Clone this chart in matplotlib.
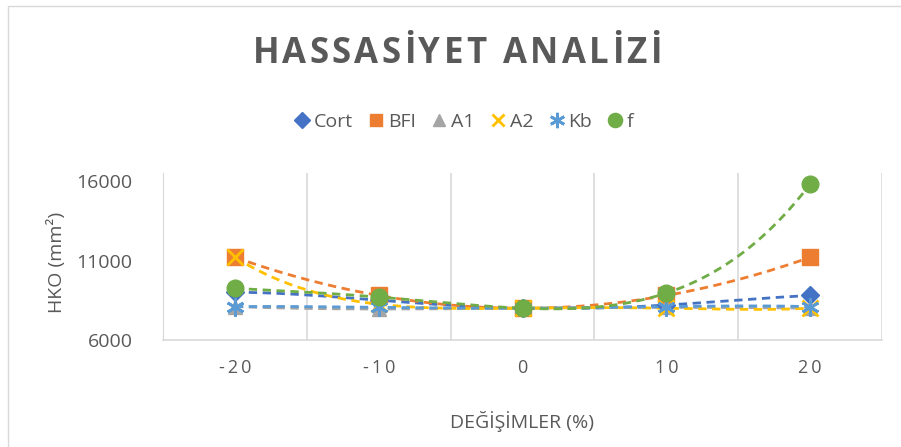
import numpy as np
import matplotlib
matplotlib.use('Agg')
import matplotlib.pyplot as plt
from matplotlib.patches import Rectangle

plt.rcParams['font.family'] = ['Open Sans', 'DejaVu Sans']

# data
degisim = [-20, -10, 0, 10, 20]
cort = [9000, 8500, 8000, 8200, 8800]
bfi = [11200, 8800, 8000, 8800, 11200]
a1 = [8100, 7950, 8000, 8050, 8000]
a2 = [11200, 8250, 8000, 8000, 8000]
kb = [8100, 8050, 8000, 8100, 8100]
f = [9250, 8700, 8000, 8950, 15800]

series = [
    ('Cort', cort, '#4472C4', 'D', 9),
    ('BFI', bfi, '#ED7D31', 's', 11),
    ('A1', a1, '#A5A5A5', '^', 10),
    ('A2', a2, '#FFC000', 'x', 11),
    ('Kb', kb, '#5B9BD5', (6, 2, 0), 13),
    ('f', f, '#70AD47', 'o', 12),
]

grey = '#595959'
W, H = 901, 447
fig = plt.figure(figsize=(W / 100, H / 100), dpi=100)
fig.patches.append(Rectangle((8 / W, -0.1), 1.2, 1 - 6 / H + 0.1, transform=fig.transFigure,
                             fill=False, edgecolor='#D9D9D9', lw=1))

ax = fig.add_axes([163 / W, 1 - 340 / H, (882 - 163) / W, (340 - 173) / H])

xpos = np.arange(len(degisim))
xs = np.linspace(0, len(degisim) - 1, 200)
handles = []
for i, (name, vals, col, mk, ms) in enumerate(series):
    coef = np.polyfit(xpos, vals, 4)
    ax.plot(xs, np.polyval(coef, xs), color=col, lw=2, ls=(0, (3, 2)), zorder=2 + i)
    h, = ax.plot(xpos, vals, ls='none', marker=mk, ms=ms, color=col,
                 mew=2 if mk in ('x',) or isinstance(mk, tuple) else 1, zorder=10 + i)
    handles.append(h)

ax.set_xlim(-0.5, len(degisim) - 0.5)
ax.set_ylim(6000, 6000 + (340 - 173) / 15.9 * 1000)
ax.set_yticks([6000, 11000, 16000])
ax.set_xticks(xpos)
ax.set_xticklabels(['\u2009'.join(str(d)) for d in degisim])
ax.set_xticks(np.arange(-0.5, len(degisim), 1), minor=True)
ax.grid(True, which='minor', axis='x', color='#D9D9D9', lw=1.2)
ax.tick_params(which='both', length=0, colors=grey, labelsize=13)
ax.tick_params(axis='y', labelsize=14, pad=22)
ax.tick_params(axis='x', pad=14)
for s in ['top', 'right']:
    ax.spines[s].set_visible(False)
ax.spines['left'].set_color('#D9D9D9')
ax.spines['bottom'].set_color('#D9D9D9')
ax.spines['bottom'].set_linewidth(1.2)

ax.set_xlabel('DEĞİŞİMLER (%)', fontsize=14, color=grey, labelpad=24)
fig.text(57 / W, 1 - 262 / H, 'HKO (mm²)', rotation=90, ha='center', va='center',
         fontsize=14, color=grey)

leg = fig.legend(handles, [s[0] for s in series], loc='center', bbox_to_anchor=(464 / W, 1 - 122 / H),
                 ncol=6, frameon=False, fontsize=14, handlelength=0.8, handletextpad=0.2,
                 columnspacing=0.8, markerscale=0.85)
for t in leg.get_texts():
    t.set_color(grey)

# title with wide letter spacing, placed char by char
title = 'HASSASİYET ANALİZİ'
renderer = fig.canvas.get_renderer()
spacing = 3.2
widths = []
for ch in title:
    t = fig.text(0, 0, ch if ch != ' ' else 'I', fontsize=25, fontweight='bold')
    bb = t.get_window_extent(renderer)
    widths.append(bb.width if ch != ' ' else bb.width * 0.9)
    t.remove()
total = sum(widths) + spacing * (len(title) - 1)
x = 457 - total / 2
for ch, w in zip(title, widths):
    fig.text(x / W, 1 - 54 / H, ch, fontsize=25, fontweight='bold', color=grey,
             ha='left', va='center')
    x += w + spacing

fig.savefig('out.png', dpi=100)
